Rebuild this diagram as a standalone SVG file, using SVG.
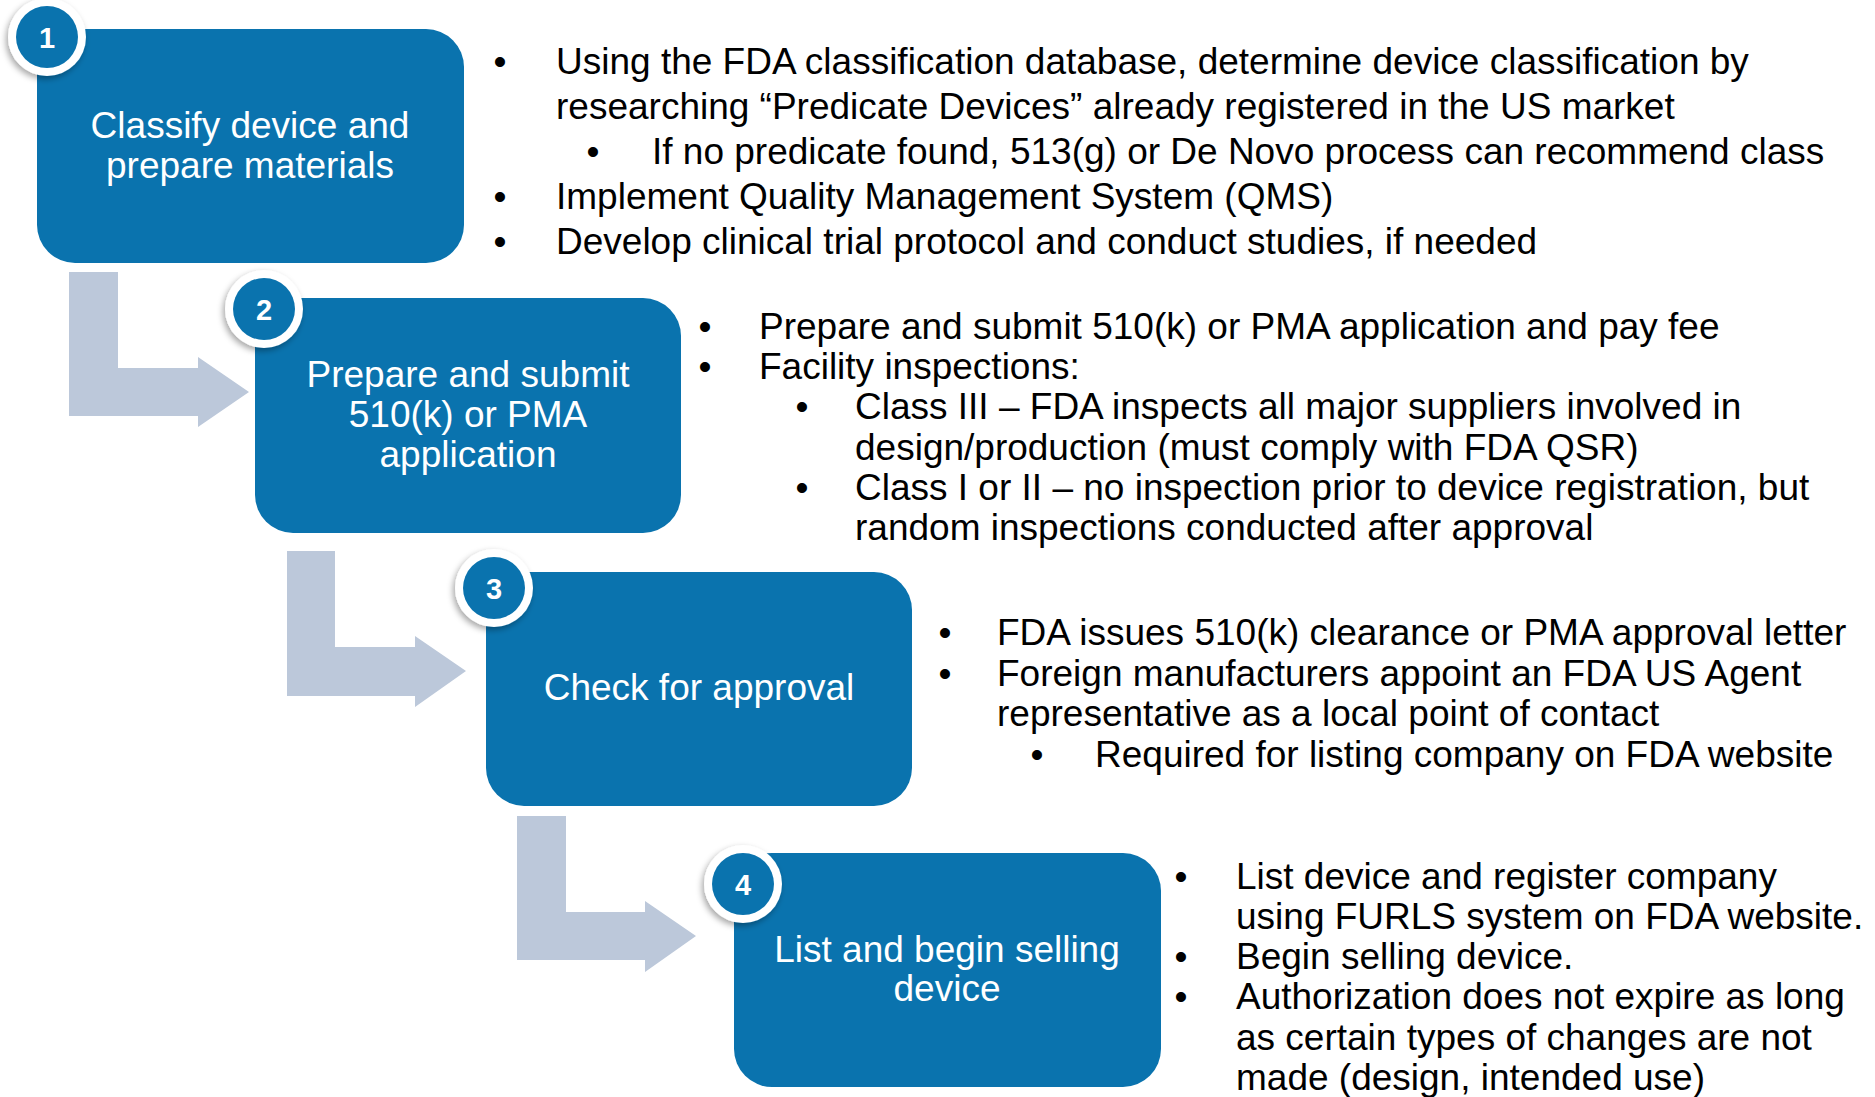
<svg xmlns="http://www.w3.org/2000/svg" width="1875" height="1097" viewBox="0 0 1875 1097">
<defs>
<filter id="sh" x="-30%" y="-30%" width="160%" height="160%">
<feDropShadow dx="-2" dy="3" stdDeviation="3" flood-color="#000" flood-opacity="0.35"/>
</filter>
</defs>
<style>
.box{fill:#0A73AE;}
.ring{fill:#FFFFFF;filter:url(#sh);}
.dot{fill:#0A73AE;}
.num{font-family:"Liberation Sans",Arial,sans-serif;font-weight:bold;font-size:29px;fill:#FFFFFF;text-anchor:middle;}
.lbl{font-family:"Liberation Sans",Arial,sans-serif;font-size:37px;fill:#FFFFFF;text-anchor:middle;}
.txt{font-family:"Liberation Sans",Arial,sans-serif;font-size:37px;fill:#000000;}
.bul{font-family:"Liberation Sans",Arial,sans-serif;font-size:37px;fill:#000000;text-anchor:middle;}
.arr{fill:#BCC8DA;}
</style>
<rect width="1875" height="1097" fill="#FFFFFF"/>
<g id="connectors">
<polygon class="arr" points="69,272 118,272 118,368 198,368 198,357 249,392 198,427 198,416 69,416"/>
<polygon class="arr" points="287,551 335,551 335,647 415,647 415,636 466,671 415,707 415,696 287,696"/>
<polygon class="arr" points="517,816 566,816 566,912 645,912 645,901 696,936 645,972 645,960 517,960"/>
</g>
<g id="step1">
<rect class="box" x="37" y="29" width="427" height="234" rx="38"/>
<text class="lbl" x="250" y="138">Classify device and</text>
<text class="lbl" x="250" y="178">prepare materials</text>
<circle class="ring" cx="47" cy="37" r="39"/>
<circle class="dot" cx="47" cy="37" r="31"/>
<text class="num" x="47" y="47.5">1</text>
</g>
<g id="step2">
<rect class="box" x="255" y="298" width="426" height="235" rx="38"/>
<text class="lbl" x="468" y="387">Prepare and submit</text>
<text class="lbl" x="468" y="427">510(k) or PMA</text>
<text class="lbl" x="468" y="467">application</text>
<circle class="ring" cx="264" cy="309" r="39"/>
<circle class="dot" cx="264" cy="309" r="31"/>
<text class="num" x="264" y="319.5">2</text>
</g>
<g id="step3">
<rect class="box" x="486" y="572" width="426" height="234" rx="38"/>
<text class="lbl" x="699" y="700">Check for approval</text>
<circle class="ring" cx="494" cy="588" r="39"/>
<circle class="dot" cx="494" cy="588" r="31"/>
<text class="num" x="494" y="598.5">3</text>
</g>
<g id="step4">
<rect class="box" x="734" y="853" width="427" height="234" rx="38"/>
<text class="lbl" x="947" y="962">List and begin selling</text>
<text class="lbl" x="947" y="1001">device</text>
<circle class="ring" cx="743" cy="884" r="39"/>
<circle class="dot" cx="743" cy="884" r="31"/>
<text class="num" x="743" y="894.5">4</text>
</g>
<g id="notes1">
<text class="bul" x="500" y="74">•</text>
<text class="txt" x="556" y="74">Using the FDA classification database, determine device classification by</text>
<text class="txt" x="556" y="119">researching “Predicate Devices” already registered in the US market</text>
<text class="bul" x="593" y="164">•</text>
<text class="txt" x="652" y="164">If no predicate found, 513(g) or De Novo process can recommend class</text>
<text class="bul" x="500" y="209">•</text>
<text class="txt" x="556" y="209">Implement Quality Management System (QMS)</text>
<text class="bul" x="500" y="254">•</text>
<text class="txt" x="556" y="254">Develop clinical trial protocol and conduct studies, if needed</text>
</g>
<g id="notes2">
<text class="bul" x="705" y="339">•</text>
<text class="txt" x="759" y="339">Prepare and submit 510(k) or PMA application and pay fee</text>
<text class="bul" x="705" y="379">•</text>
<text class="txt" x="759" y="379">Facility inspections:</text>
<text class="bul" x="802" y="419">•</text>
<text class="txt" x="855" y="419">Class III – FDA inspects all major suppliers involved in</text>
<text class="txt" x="855" y="460">design/production (must comply with FDA QSR)</text>
<text class="bul" x="802" y="500">•</text>
<text class="txt" x="855" y="500">Class I or II – no inspection prior to device registration, but</text>
<text class="txt" x="855" y="540">random inspections conducted after approval</text>
</g>
<g id="notes3">
<text class="bul" x="945" y="645">•</text>
<text class="txt" x="997" y="645">FDA issues 510(k) clearance or PMA approval letter</text>
<text class="bul" x="945" y="686">•</text>
<text class="txt" x="997" y="686">Foreign manufacturers appoint an FDA US Agent</text>
<text class="txt" x="997" y="726">representative as a local point of contact</text>
<text class="bul" x="1037" y="767">•</text>
<text class="txt" x="1095" y="767">Required for listing company on FDA website</text>
</g>
<g id="notes4">
<text class="bul" x="1181" y="889">•</text>
<text class="txt" x="1236" y="889">List device and register company</text>
<text class="txt" x="1236" y="929">using FURLS system on FDA website.</text>
<text class="bul" x="1181" y="969">•</text>
<text class="txt" x="1236" y="969">Begin selling device.</text>
<text class="bul" x="1181" y="1009">•</text>
<text class="txt" x="1236" y="1009">Authorization does not expire as long</text>
<text class="txt" x="1236" y="1050">as certain types of changes are not</text>
<text class="txt" x="1236" y="1090">made (design, intended use)</text>
</g>
</svg>
